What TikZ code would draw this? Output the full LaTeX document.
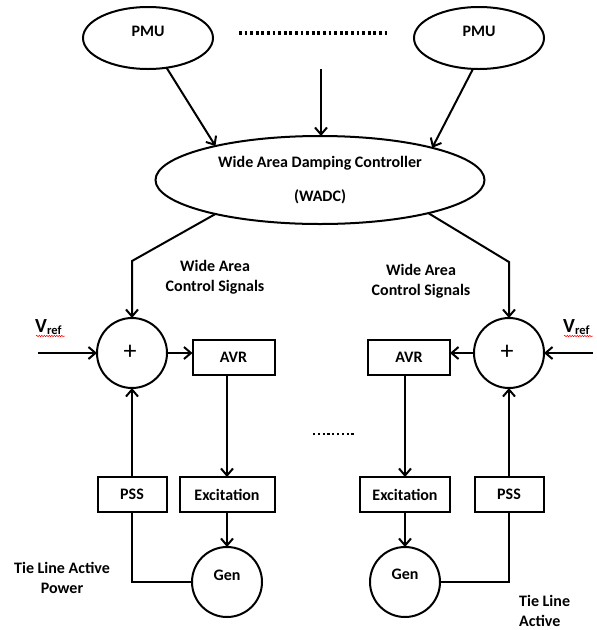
\documentclass[tikz,border=0pt]{standalone}
\usepackage{fontspec}
\setmainfont{Carlito}
\usetikzlibrary{shapes.geometric,arrows.meta,decorations.pathmorphing}
\begin{document}
\begin{tikzpicture}[x=1pt,y=-1pt,
  every node/.style={font=\fontsize{16}{20}\selectfont\bfseries},
  ln/.style={line width=2pt},
  arr/.style={ln,-{Straight Barb[length=7pt,width=12pt]}},
  ell/.style={ellipse,draw,ln,inner sep=0pt,outer sep=0pt},
  sumc/.style={circle,draw,ln,minimum size=70pt,inner sep=0pt,outer sep=0pt},
  blk/.style={rectangle,draw,ln,minimum height=35pt,inner sep=0pt,outer sep=0pt},
  txt/.style={inner sep=0pt,align=center},
  dots/.style={line width=3.2pt,dash pattern=on 2.8pt off 2.8pt},
  squig/.style={red,line width=0.5pt,decorate,decoration={snake,amplitude=0.7pt,segment length=2.5pt}},
  plus/.style={font=\fontsize{26}{26}\selectfont\mdseries},
]
\useasboundingbox (0,0) rectangle (597,630);
% PMUs
\node[ell,minimum width=130pt,minimum height=62pt] (pmu1) at (148,38) {};
\node[txt] (pmu1t) at (148,31) {PMU};
\node[ell,minimum width=130pt,minimum height=62pt] (pmu2) at (479,38) {};
\node[txt] (pmu2t) at (479,31) {PMU};
\coordinate (dA) at (239,33);
\coordinate (dB) at (387,33);
\draw[dots] (dA) -- (dB);
% WADC
\node[ell,minimum width=329pt,minimum height=88pt,align=center] (wadc) at (320,180)
  {Wide Area Damping Controller\\[14pt](WADC)};
\coordinate (midtop) at (321,69);
\draw[arr] (pmu1.-58) -- (wadc.162);
\draw[arr] (midtop) -- (midtop |- wadc.north);
\draw[arr] (pmu2.-101) -- (wadc.16);
% summing junctions
\node[sumc] (sum1) at (132,353) {};
\node[plus] (sum1p) at (130,352) {+};
\node[sumc] (sum2) at (509,353) {};
\node[plus] (sum2p) at (507,352) {+};
\coordinate (bend1) at (132,261);
\coordinate (bend2) at (509,262);
\draw[arr] (wadc.-162) -- (bend1) -- (sum1.north);
\draw[arr] (wadc.-17) -- (bend2) -- (sum2.north);
\node[txt] (wacs1) at (215,277) {Wide Area\\Control Signals};
\node[txt] (wacs2) at (421,281) {Wide Area\\Control Signals};
% Vref
\node[txt,anchor=base west] (vref1) at (35,332) {\fontsize{20}{20}\selectfont V\raisebox{-2pt}{\fontsize{12.5}{12}\selectfont ref}};
\node[txt,anchor=base west] (vref2) at (563,332) {\fontsize{20}{20}\selectfont V\raisebox{-2pt}{\fontsize{12.5}{12}\selectfont ref}};
\coordinate (sq1a) at (36,336); \coordinate (sq1b) at (65,336);
\coordinate (sq2a) at (564,336); \coordinate (sq2b) at (593,336);
\draw[squig] (sq1a) -- (sq1b);
\draw[squig] (sq2a) -- (sq2b);
\coordinate (vin1) at (38,353);
\coordinate (vin2) at (593,353);
\draw[arr] (vin1) -- (sum1.west);
\draw[arr] (vin2) -- (sum2.east);
% left chain
\node[blk,minimum width=82pt] (avr1) at (233.5,357.5) {AVR};
\node[blk,minimum width=95pt] (exc1) at (227,494.5) {Excitation};
\node[blk,minimum width=69pt] (pss1) at (132,494.5) {PSS};
\node[sumc] (gen1) at (227,582) {};
\node[txt] (gen1t) at (227,575) {Gen};
\draw[arr] (sum1.east) -- (sum1.east -| avr1.west);
\draw[arr] (avr1.south -| exc1.north) -- (exc1.north);
\draw[arr] (exc1.south) -- (gen1.north);
\draw[ln] (gen1.west) -| (pss1.south);
\draw[arr] (pss1.north) -- (sum1.south);
% right chain
\node[blk,minimum width=82pt] (avr2) at (409,357.5) {AVR};
\node[blk,minimum width=90pt] (exc2) at (405,494.5) {Excitation};
\node[blk,minimum width=69pt] (pss2) at (509,494.5) {PSS};
\node[sumc] (gen2) at (405,582) {};
\node[txt] (gen2t) at (405,574) {Gen};
\draw[arr] (sum2.west) -- (sum2.west -| avr2.east);
\draw[arr] (avr2.south -| exc2.north) -- (exc2.north);
\draw[arr] (exc2.south) -- (gen2.north);
\draw[ln] (gen2.east) -| (pss2.south);
\draw[arr] (pss2.north) -- (sum2.south);
% middle dots
\coordinate (mdA) at (313,434);
\coordinate (mdB) at (355,434);
\draw[line width=2.4pt,dash pattern=on 2.2pt off 2.6pt] (mdA) -- (mdB);
% tie line labels
\node[txt] (tie1) at (62,578) {Tie Line Active\\Power};
\node[txt,align=left,anchor=base west] (tie2) at (519,626.5) {Tie Line\\Active};
\end{tikzpicture}
\end{document}
